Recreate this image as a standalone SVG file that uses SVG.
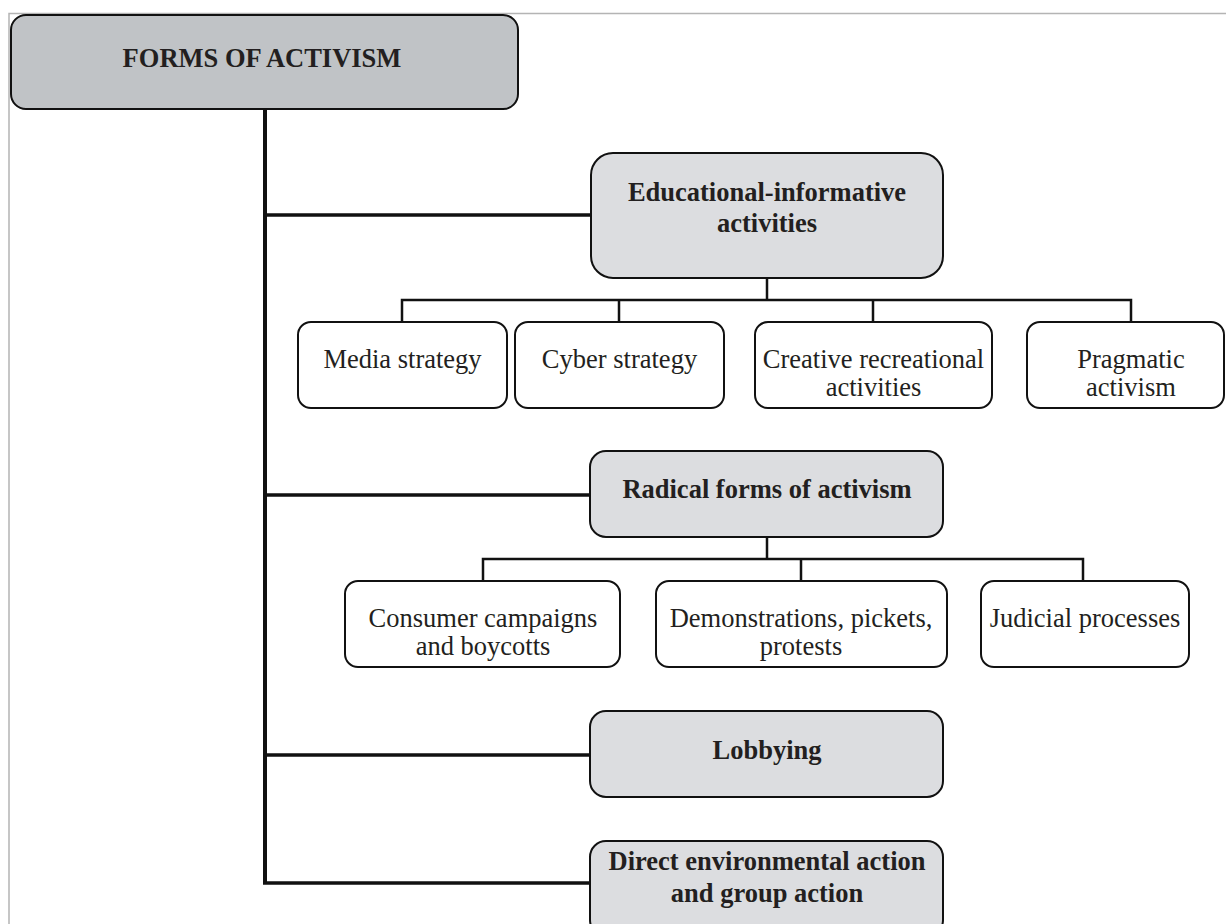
<svg xmlns="http://www.w3.org/2000/svg" width="1226" height="924" viewBox="0 0 1226 924">
<style>
.frame{fill:none;stroke:#b4b4b4;stroke-width:1.5}
.root{fill:#c0c3c6;stroke:#111;stroke-width:2}
.mid{fill:#dcdde0;stroke:#111;stroke-width:2}
.leaf{fill:#fff;stroke:#111;stroke-width:2}
.trunk{fill:none;stroke:#111;stroke-width:4}
.br{fill:none;stroke:#111;stroke-width:3.5}
.sub{fill:none;stroke:#111;stroke-width:2.5}
text{font-family:"Liberation Serif","Times New Roman",serif;font-size:26.5px;fill:#231f20;text-anchor:middle}
.b{font-weight:bold}
</style>
<rect width="1226" height="924" fill="#fff"/>
<path class="frame" d="M9,924 V13.5 H1226"/>
<g id="connectors">
  <path class="trunk" d="M265,109 V883"/>
  <path class="br" d="M265,215 H591"/>
  <path class="br" d="M265,495 H590"/>
  <path class="br" d="M265,755 H590"/>
  <path class="br" d="M263,883 H590"/>
  <path class="sub" d="M767,278 V300 M402,322 V300 H1131 V322 M619,300 V322 M873,300 V322"/>
  <path class="sub" d="M767,537 V559 M483,581 V559 H1083 V581 M801,559 V581"/>
</g>
<g id="root">
  <rect class="root" x="11" y="15" width="507" height="94" rx="15"/>
  <text class="b" x="262" y="67">FORMS OF ACTIVISM</text>
</g>
<g id="educational">
  <rect class="mid" x="591" y="153" width="352" height="125" rx="22"/>
  <text class="b" x="767" y="201">Educational-informative</text>
  <text class="b" x="767" y="232">activities</text>
</g>
<g id="media">
  <rect class="leaf" x="298" y="322" width="209" height="86" rx="13"/>
  <text x="402.5" y="368">Media strategy</text>
</g>
<g id="cyber">
  <rect class="leaf" x="515" y="322" width="209" height="86" rx="13"/>
  <text x="619.5" y="368">Cyber strategy</text>
</g>
<g id="creative">
  <rect class="leaf" x="755" y="322" width="237" height="86" rx="13"/>
  <text x="873.5" y="368">Creative recreational</text>
  <text x="873.5" y="396">activities</text>
</g>
<g id="pragmatic">
  <rect class="leaf" x="1027" y="322" width="197" height="86" rx="13"/>
  <text x="1131" y="368">Pragmatic</text>
  <text x="1131" y="396">activism</text>
</g>
<g id="radical">
  <rect class="mid" x="590" y="451" width="353" height="86" rx="16"/>
  <text class="b" x="767" y="498">Radical forms of activism</text>
</g>
<g id="consumer">
  <rect class="leaf" x="345" y="581" width="275" height="86" rx="13"/>
  <text x="483" y="627">Consumer campaigns</text>
  <text x="483" y="655">and boycotts</text>
</g>
<g id="demonstrations">
  <rect class="leaf" x="656" y="581" width="291" height="86" rx="13"/>
  <text x="801" y="627">Demonstrations, pickets,</text>
  <text x="801" y="655">protests</text>
</g>
<g id="judicial">
  <rect class="leaf" x="981" y="581" width="208" height="86" rx="13"/>
  <text x="1085" y="627">Judicial processes</text>
</g>
<g id="lobbying">
  <rect class="mid" x="590" y="711" width="353" height="86" rx="16"/>
  <text class="b" x="767" y="759">Lobbying</text>
</g>
<g id="direct">
  <rect class="mid" x="590" y="841" width="353" height="95" rx="16"/>
  <text class="b" x="767" y="870">Direct environmental action</text>
  <text class="b" x="767" y="902">and group action</text>
</g>
</svg>
